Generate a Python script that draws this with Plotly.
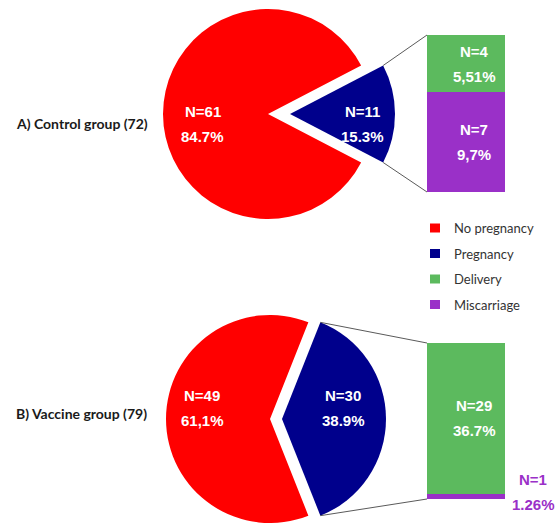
import math
import plotly.graph_objects as go

# ---- data -------------------------------------------------------------
groups = ["A) Control group (72)", "B) Vaccine group (79)"]
no_pregnancy_n = [61, 49]
pregnancy_n = [11, 30]
no_pregnancy_pct = ["84.7%", "61,1%"]
pregnancy_pct = ["15.3%", "38.9%"]
delivery_n = [4, 29]
miscarriage_n = [7, 1]
delivery_pct = ["5,51%", "36.7%"]
miscarriage_pct = ["9,7%", "1.26%"]

legend_labels = ["No pregnancy", "Pregnancy", "Delivery", "Miscarriage"]

# ---- style ------------------------------------------------------------
W, H = 556, 523
RED, NAVY, GREEN, PURPLE = "#FF0000", "#00008C", "#5CBA5E", "#9A30C8"
legend_colors = [RED, NAVY, GREEN, PURPLE]
CLEAR = "rgba(0,0,0,0)"
LABEL_FONT = "Liberation Sans, Arial, sans-serif"
TEXT_FONT = "Lato, Calibri, sans-serif"

# pie centre (px), radius (px), explode offset (px) per group
pie_center = [(268, 114), (270, 419)]
pie_radius = [105, 104]
pie_pull = [22, 12]
label_frac = [(0.62, 0.69), (0.65, 0.59)]
group_label_y = [113, 424]
# stacked-bar boxes: (left, right, top, bottom) in px
bar_box = [(427, 505, 35, 192), (427, 505, 343, 499)]


def px(x):
    return x / W


def py(y):
    return 1 - y / H


fig = go.Figure()
annotations = []
shapes = []

for g in range(2):
    cx, cy = pie_center[g]
    r = pie_radius[g]
    pull = pie_pull[g]
    preg, nopreg = pregnancy_n[g], no_pregnancy_n[g]
    total = preg + nopreg
    preg_angle = 360 * preg / total
    rotation = 90 - preg_angle / 2  # pregnancy slice centred at 3 o'clock

    # red body and exploded blue slice are drawn as two aligned pies
    for dx, colors in ((0, [CLEAR, RED]), (pull, [NAVY, CLEAR])):
        fig.add_trace(go.Pie(
            values=[preg, nopreg],
            labels=["Pregnancy", "No pregnancy"],
            marker=dict(colors=colors, line=dict(width=0)),
            sort=False, direction="clockwise", rotation=rotation,
            textinfo="none", hoverinfo="label+value", showlegend=False,
            domain=dict(x=[px(cx + dx - r), px(cx + dx + r)],
                        y=[py(cy + r), py(cy - r)]),
        ))

    # slice labels
    fr_red, fr_blue = label_frac[g]
    for (lx, n, pct) in (
        (cx - fr_red * r, nopreg, no_pregnancy_pct[g]),
        (cx + pull + fr_blue * r, preg, pregnancy_pct[g]),
    ):
        for txt, shift in ((f"N={n}", 13), (pct, -12)):
            annotations.append(dict(
                x=px(lx), y=py(cy), xref="paper", yref="paper",
                text=f"<b>{txt}</b>", showarrow=False, yshift=shift,
                font=dict(family=LABEL_FONT, size=15, color="white"),
            ))

    # group title
    annotations.append(dict(
        x=px(14), y=py(group_label_y[g]), xref="paper", yref="paper",
        xanchor="left", text=f"<b>{groups[g]}</b>", showarrow=False,
        font=dict(family=TEXT_FONT, size=14, color="#1a1a1a"),
    ))

    # stacked bar of pregnancy outcomes
    xa = "x" if g == 0 else "x2"
    ya = "y" if g == 0 else "y2"
    fig.add_trace(go.Bar(x=[0], y=[miscarriage_n[g]], marker=dict(color=PURPLE, line=dict(width=0)),
                         width=1, name="Miscarriage", showlegend=False, xaxis=xa, yaxis=ya))
    fig.add_trace(go.Bar(x=[0], y=[delivery_n[g]], marker=dict(color=GREEN, line=dict(width=0)),
                         width=1, name="Delivery", showlegend=False, xaxis=xa, yaxis=ya))

    # labels inside / beside the bar segments
    mis, dev = miscarriage_n[g], delivery_n[g]
    seg = [(mis + dev / 2, dev, delivery_pct[g], "white", 8, 12.5, 8, -12.5)]
    if g == 0:
        seg.append((mis / 2, mis, miscarriage_pct[g], "white", 8, 12.5, 8, -12.5))
    else:
        seg.append((mis / 2, mis, miscarriage_pct[g], PURPLE, 67, 16.5, 67, -8.5))
    for (yc, n, pct, col, xs1, ys1, xs2, ys2) in seg:
        for txt, xs, ys in ((f"N={n}", xs1, ys1), (pct, xs2, ys2)):
            annotations.append(dict(
                x=0, y=yc, xref=xa, yref=ya, text=f"<b>{txt}</b>",
                showarrow=False, xshift=xs, yshift=ys,
                font=dict(family=LABEL_FONT, size=15, color=col),
            ))

    # connector lines from the exploded slice to the bar
    half = math.radians(preg_angle / 2)
    bcx = cx + pull
    top_corner = (bcx + r * math.cos(half), cy - r * math.sin(half))
    bot_corner = (bcx + r * math.cos(half), cy + r * math.sin(half))
    bl, br, bt, bb = bar_box[g]
    for (x0, y0), (x1, y1) in ((top_corner, (bl, bt)), (bot_corner, (bl, bb))):
        shapes.append(dict(type="line", xref="paper", yref="paper",
                           x0=px(x0), y0=py(y0), x1=px(x1), y1=py(y1),
                           line=dict(color="#5a5a5a", width=1)))

# legend
for i, (lab, col) in enumerate(zip(legend_labels, legend_colors)):
    yc = 228 + i * 25.5
    shapes.append(dict(type="rect", xref="paper", yref="paper",
                       x0=px(430), x1=px(440), y0=py(yc + 4.5), y1=py(yc - 4.5),
                       fillcolor=col, line=dict(width=0)))
    annotations.append(dict(x=px(452), y=py(yc), xref="paper", yref="paper",
                            xanchor="left", text=lab, showarrow=False,
                            font=dict(family=TEXT_FONT, size=13, color="#333333")))

axis_off = dict(showgrid=False, zeroline=False, showticklabels=False, ticks="", fixedrange=True)
bl, br, bt, bb = bar_box[0]
fig.update_layout(
    width=W, height=H, margin=dict(l=0, r=0, t=0, b=0),
    paper_bgcolor="white", plot_bgcolor="white",
    barmode="stack", bargap=0,
    xaxis=dict(domain=[px(bl), px(br)], range=[-0.5, 0.5], **axis_off),
    yaxis=dict(domain=[py(bb), py(bt)], range=[0, miscarriage_n[0] + delivery_n[0]], **axis_off),
    xaxis2=dict(domain=[px(bar_box[1][0]), px(bar_box[1][1])], range=[-0.5, 0.5], anchor="y2", **axis_off),
    yaxis2=dict(domain=[py(bar_box[1][3]), py(bar_box[1][2])],
                range=[0, miscarriage_n[1] + delivery_n[1]], anchor="x2", **axis_off),
    annotations=annotations, shapes=shapes, showlegend=False,
)

fig.write_html("out.html")
